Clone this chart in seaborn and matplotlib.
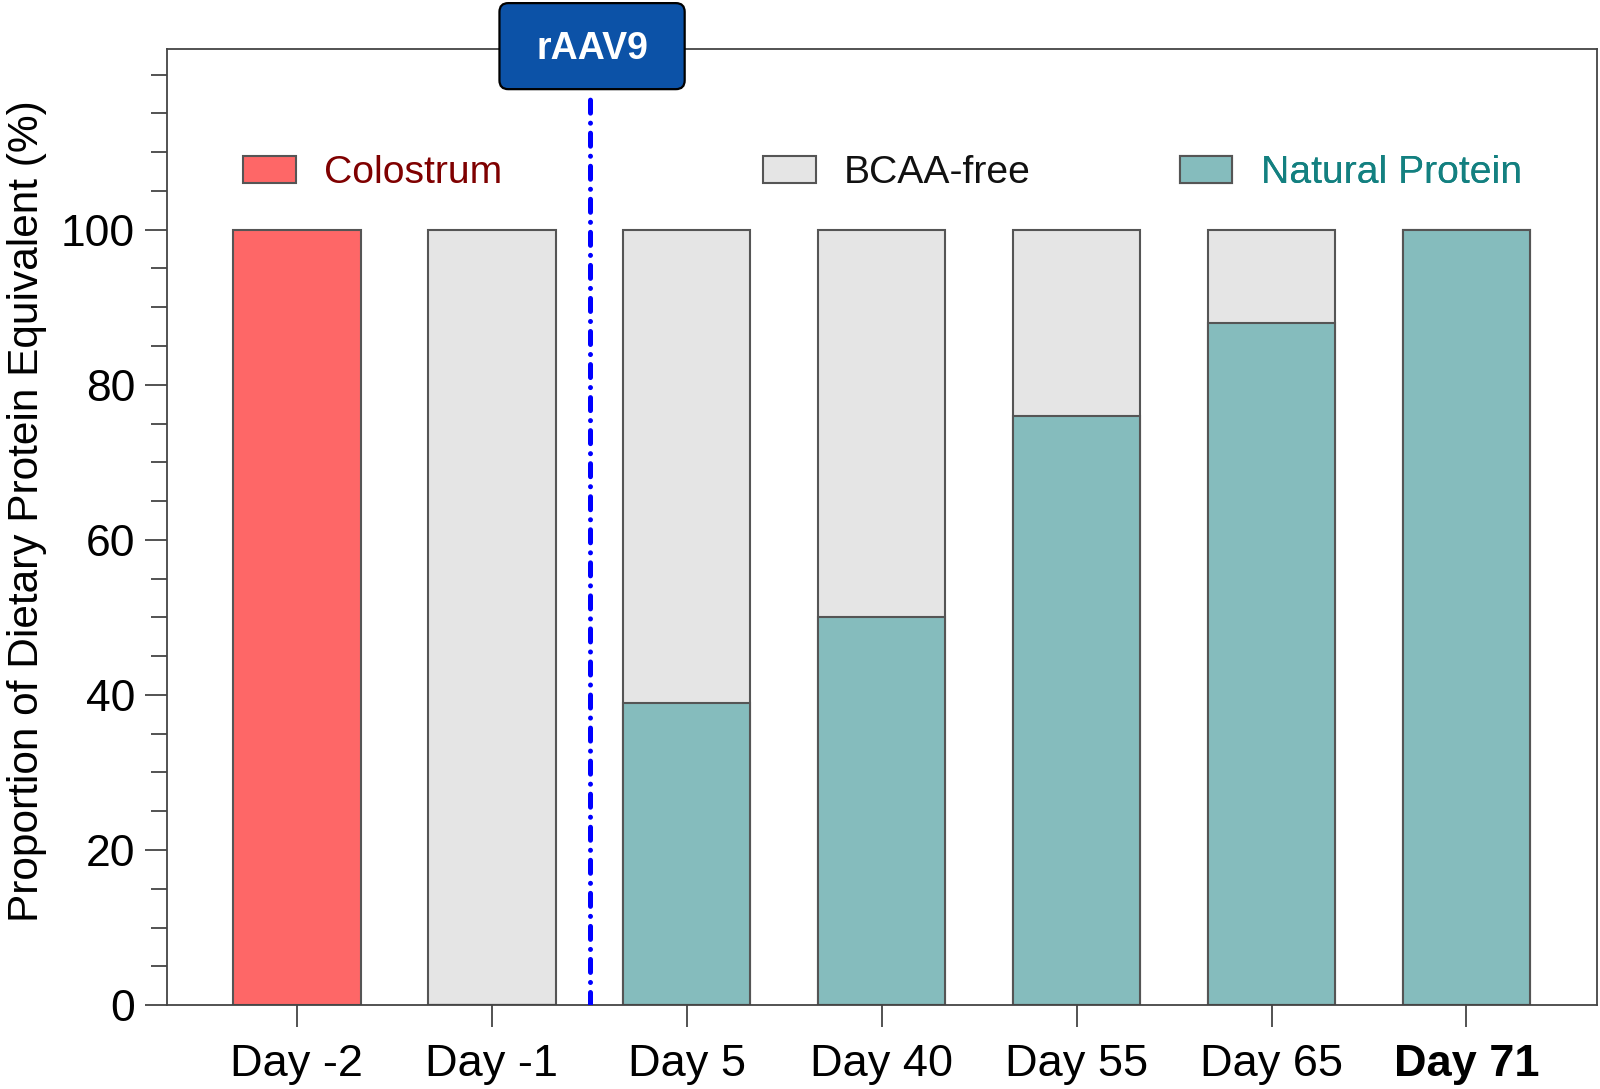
import numpy as np
import pandas as pd
import seaborn as sns
import matplotlib.pyplot as plt
from matplotlib.patches import Patch, FancyBboxPatch
from matplotlib.ticker import FixedLocator, MultipleLocator
from matplotlib.transforms import blended_transform_factory

# Data (percent of dietary protein equivalent)
days = ['Day -2', 'Day -1', 'Day 5', 'Day 40', 'Day 55', 'Day 65', 'Day 71']
colostrum = [100, 0, 0, 0, 0, 0, 0]
bcaa_free = [0, 100, 61, 50, 24, 12, 0]
natural_protein = [0, 0, 39, 50, 76, 88, 100]
dose_after = 1.5  # rAAV9 given between Day -1 and Day 5

c_colostrum = '#FE6767'
c_bcaa = '#E5E5E5'
c_natural = '#85BCBD'
edge = '#555555'

sns.set_style('ticks')
plt.rcParams['font.family'] = ['Liberation Sans', 'DejaVu Sans']
plt.rcParams['text.color'] = 'black'
plt.rcParams['axes.labelcolor'] = 'black'
plt.rcParams['xtick.labelcolor'] = 'black'
plt.rcParams['ytick.labelcolor'] = 'black'

df = pd.DataFrame({'day': days, 'colostrum': colostrum,
                   'bcaa': bcaa_free, 'natural': natural_protein})
df['bcaa_top'] = df['bcaa'] + df['natural']

fig = plt.figure(figsize=(16, 10.89), dpi=100)
ax = fig.add_axes([0.1044, 0.0771, 0.8938, 0.8779])

bar_kw = dict(edgecolor=edge, linewidth=1.5, width=0.655, saturation=1,
              errorbar=None, ax=ax, order=days)
# stacked bars: gray total first, then natural protein on top of it
sns.barplot(data=df, x='day', y='bcaa_top', color=c_bcaa, **bar_kw)
sns.barplot(data=df, x='day', y='natural', color=c_natural, **bar_kw)
sns.barplot(data=df, x='day', y='colostrum', color=c_colostrum, **bar_kw)

ax.set_xlim(-0.665, 6.67)
ax.set_ylim(0, 123.3)

# dose marker line
ax.axvline(dose_after + 0.005, ymin=0, ymax=0.955, color='#0000FF', lw=3.6,
           ls=(0, (2.6, 2.0, 0.01, 2.0)), dash_capstyle='round', zorder=4)

# rAAV9 label box straddling the top spine
trans = blended_transform_factory(ax.transData, ax.transAxes)
box_w = 0.95
box = FancyBboxPatch((dose_after + 0.015 - box_w / 2, 0.958), box_w, 0.09,
                     boxstyle='round,pad=0,rounding_size=0.045',
                     mutation_aspect=0.204,
                     facecolor='#0C52A7', edgecolor='black', lw=1.6,
                     transform=trans, clip_on=False, zorder=6)
ax.add_patch(box)
ax.text(dose_after + 0.015, 1.0, 'rAAV9', transform=trans, ha='center', va='center',
        color='white', fontsize=27, fontweight='bold', zorder=7)

# axes styling
for sp in ax.spines.values():
    sp.set_color('#444444')
    sp.set_linewidth(1.3)
ax.yaxis.set_major_locator(FixedLocator([0, 20, 40, 60, 80, 100]))
ax.yaxis.set_minor_locator(MultipleLocator(5))
ax.tick_params(axis='y', which='major', length=16, width=1.3, color='#444444',
               labelsize=32, pad=7)
ax.tick_params(axis='y', which='minor', length=11.5, width=1.3, color='#444444')
ax.tick_params(axis='x', which='major', length=16, width=1.3, color='#444444',
               labelsize=32.5, pad=12)
ax.set_xlabel('')
ax.set_ylabel('Proportion of Dietary Protein Equivalent (%)', fontsize=30.5)
ax.yaxis.set_label_coords(-0.084, 0.5165)
ax.get_xticklabels()[-1].set_fontweight('bold')

# legend, three separate entries along one row
entries = [('Colostrum', c_colostrum, '#7F0000', 0.053),
           ('BCAA-free', c_bcaa, '#111111', 0.4168),
           ('Natural Protein', c_natural, '#138080', 0.708)]
for label, fc, tc, xpos in entries:
    leg = ax.legend(handles=[Patch(facecolor=fc, edgecolor=edge, lw=1.5, label=label)],
                    loc='center left', bbox_to_anchor=(xpos, 0.870),
                    frameon=False, fontsize=28.2, borderpad=0, borderaxespad=0,
                    handlelength=1.35, handleheight=0.68, handletextpad=0.72)
    leg.get_texts()[0].set_color(tc)
    ax.add_artist(leg)

fig.savefig('out.png', dpi=100)
